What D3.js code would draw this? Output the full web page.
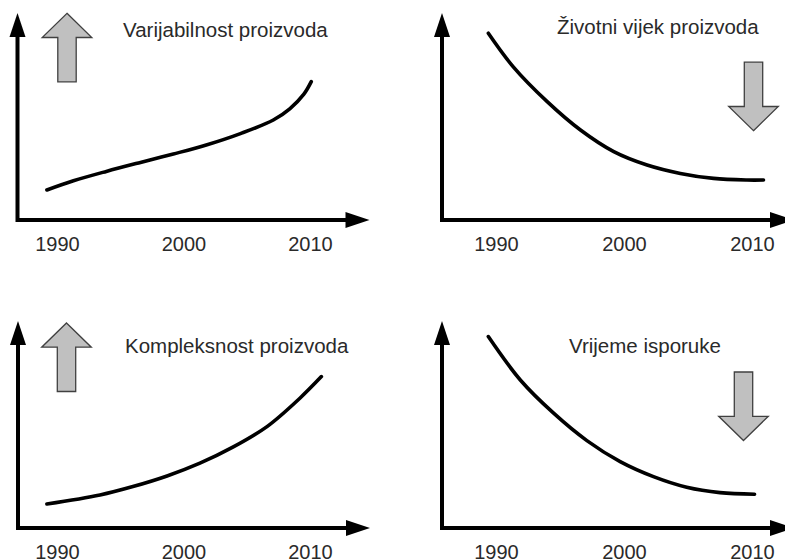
<!DOCTYPE html>
<html>
<head>
<meta charset="utf-8">
<script src="https://cdn.jsdelivr.net/npm/d3@7"></script>
<style>
  body { margin: 0; background: #fff; }
  svg { display: block; }
  text { font-family: "Liberation Sans", Arial, sans-serif; fill: #2a2a2a; }
</style>
</head>
<body>
<svg id="chart" width="785" height="559"></svg>
<script>
// data (years on x, index value 0-100 on y)
const tickYears = [1990, 2000, 2010];
const titles = ['Varijabilnost proizvoda', 'Životni vijek proizvoda', 'Kompleksnost proizvoda', 'Vrijeme isporuke'];
const trends = ['up', 'down', 'up', 'down'];

const varijabilnostYears = [1989.2, 1991.3, 1993.9, 1996.6, 1999.2, 2001.8, 2004.5, 2007.1, 2008.4, 2009.5, 2010.1];
const varijabilnostValues = [15.0, 19.6, 24.3, 28.8, 33.0, 37.5, 43.2, 50.0, 55.6, 62.8, 69.2];

const zivotniYears = [1989.4, 1991.35, 1994.0, 1996.6, 1999.2, 2001.8, 2004.4, 2007.0, 2009.6, 2010.9];
const zivotniValues = [93.4, 76.6, 59.2, 45.0, 34.2, 27.5, 23.3, 20.8, 20.0, 20.0];

const kompleksnostYears = [1989.2, 1993.4, 1996.0, 1998.7, 2001.3, 2003.9, 2006.6, 2009.2, 2010.9];
const kompleksnostValues = [12.0, 16.5, 20.7, 26.0, 32.4, 40.4, 50.7, 64.9, 75.7];

const isporukaYears = [1989.4, 1991.9, 1994.5, 1997.1, 1999.7, 2002.3, 2004.9, 2007.5, 2010.2];
const isporukaValues = [95.7, 74.0, 57.4, 43.7, 33.2, 25.7, 20.4, 17.7, 16.9];

const seriesYears = [varijabilnostYears, zivotniYears, kompleksnostYears, isporukaYears];
const seriesValues = [varijabilnostValues, zivotniValues, kompleksnostValues, isporukaValues];

// layout of the four panels
const panels = [
  { ox: 17.5, oy: 220, xr: [57, 310], title: [123, -183.5], arrow: [49.5, -206.7] },
  { ox: 442, oy: 220, xr: [496, 752], title: [557, -186], arrow: [311.5, -89.3] },
  { ox: 18, oy: 528, xr: [57, 310], title: [125, -174.7], arrow: [48.5, -205] },
  { ox: 442, oy: 528, xr: [496, 752], title: [569, -175], arrow: [301.5, -87.5] }
];

const svg = d3.select('#chart');

function blockArrow(cx, tipY, dir) {
  const s = dir === 'up' ? 1 : -1;
  const headHalf = 24.8, headLen = 24.2, shaftHalf = 9.2, len = 68.5;
  const p = d3.path();
  p.moveTo(cx, tipY);
  p.lineTo(cx + headHalf, tipY + s * headLen);
  p.lineTo(cx + shaftHalf, tipY + s * headLen);
  p.lineTo(cx + shaftHalf, tipY + s * len);
  p.lineTo(cx - shaftHalf, tipY + s * len);
  p.lineTo(cx - shaftHalf, tipY + s * headLen);
  p.lineTo(cx - headHalf, tipY + s * headLen);
  p.closePath();
  return p.toString();
}

panels.forEach((pn, i) => {
  const g = svg.append('g');
  const x = d3.scaleLinear().domain([1990, 2010]).range(pn.xr);
  const y = d3.scaleLinear().domain([0, 100]).range([pn.oy, pn.oy - 200]);

  const yTip = pn.oy - 207;
  const xTip = pn.ox + 352;

  // axes
  g.append('path')
    .attr('d', `M${pn.ox},${yTip + 20}L${pn.ox},${pn.oy}L${xTip - 20},${pn.oy}`)
    .attr('fill', 'none')
    .attr('stroke', '#000')
    .attr('stroke-width', 4);

  g.append('path')
    .attr('d', `M${pn.ox},${yTip}L${pn.ox + 8},${yTip + 24}L${pn.ox - 8},${yTip + 24}Z`)
    .attr('fill', '#000');

  g.append('path')
    .attr('d', `M${xTip},${pn.oy}L${xTip - 24},${pn.oy - 8}L${xTip - 24},${pn.oy + 8}Z`)
    .attr('fill', '#000');

  // tick labels
  const xAxis = d3.axisBottom(x)
    .tickValues(tickYears)
    .tickFormat(d3.format('d'))
    .tickSize(0)
    .tickPadding(16.3);

  const ax = g.append('g')
    .attr('transform', `translate(0, ${pn.oy})`)
    .call(xAxis);
  ax.select('.domain').remove();
  ax.selectAll('text')
    .attr('font-size', 20)
    .attr('font-family', '"Liberation Sans", Arial, sans-serif')
    .attr('fill', '#2a2a2a');

  // curve
  const pts = seriesYears[i].map((yr, k) => [yr, seriesValues[i][k]]);
  const line = d3.line()
    .x(d => x(d[0]))
    .y(d => y(d[1]))
    .curve(d3.curveCatmullRom.alpha(0.5));

  g.append('path')
    .datum(pts)
    .attr('d', line)
    .attr('fill', 'none')
    .attr('stroke', '#000')
    .attr('stroke-width', 3.6)
    .attr('stroke-linecap', 'round');

  // title
  g.append('text')
    .attr('x', pn.title[0])
    .attr('y', pn.oy + pn.title[1])
    .attr('font-size', 20.5)
    .text(titles[i]);

  // gray trend arrow
  g.append('path')
    .attr('d', blockArrow(pn.ox + pn.arrow[0], pn.oy + pn.arrow[1], trends[i]))
    .attr('fill', '#c0c0c0')
    .attr('stroke', '#404040')
    .attr('stroke-width', 1.3)
    .attr('stroke-linejoin', 'miter');
});
</script>
</body>
</html>
